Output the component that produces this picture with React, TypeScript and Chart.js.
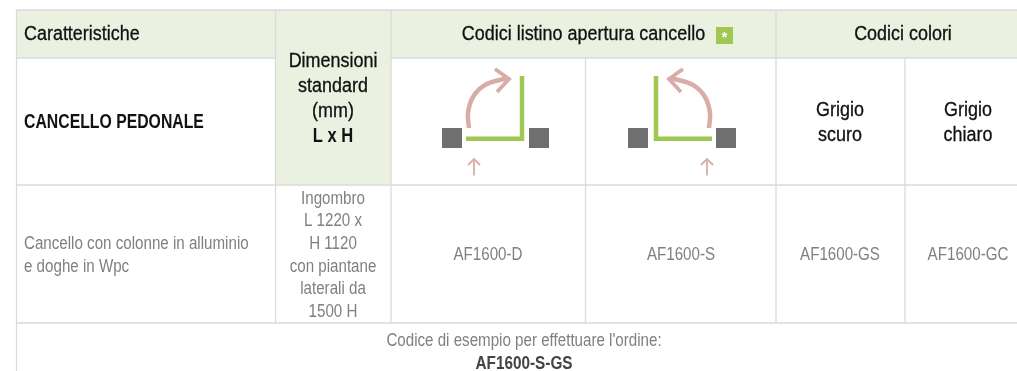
import React, { useEffect, useRef } from "react";
import { Chart, registerables } from "chart.js";

Chart.register(...registerables);

// ---- table text ----
const headerLabel = "Caratteristiche";
const dimensionHeader = ["Dimensioni", "standard", "(mm)", "L x H"];
const openingHeader = "Codici listino apertura cancello";
const starMark = "*";
const colorsHeader = "Codici colori";
const productName = "CANCELLO PEDONALE";
const colorNames = [["Grigio", "scuro"], ["Grigio", "chiaro"]];
const description = ["Cancello con colonne in alluminio", "e doghe in Wpc"];
const dimensionValues = ["Ingombro", "L 1220 x", "H 1120", "con piantane", "laterali da", "1500 H"];
const productCodes = ["AF1600-D", "AF1600-S", "AF1600-GS", "AF1600-GC"];
const exampleLabel = "Codice di esempio per effettuare l'ordine:";
const exampleCode = "AF1600-S-GS";

// ---- table structure, in scale units ----
const columnCenters = [333, 488, 681, 840, 968];
const gridSegments = [
  [16, 10, 1017, 10], [16, 58, 275, 58], [391, 58, 1017, 58], [16, 185, 1017, 185], [16, 323, 1017, 323],
  [16.5, 10, 16.5, 371], [275.5, 10, 275.5, 323], [391, 10, 391, 323], [585.5, 58, 585.5, 323],
  [776, 10, 776, 323], [905, 58, 905, 323],
];
const shadedCells = [[17, 10, 1017, 58], [276, 10, 391, 185]];
const doorLeft = [[466, 138.7], [522, 138.7], [522, 76]];
const doorRight = [[656, 76], [656, 138.7], [712, 138.7]];
const swingLeft = [[469, 128], [468, 113], [473, 97], [485, 85], [507, 78]];
const swingRight = [[709, 128], [710, 113], [705, 97], [693, 85], [671, 78]];
const swingHeadLeft = [[495, 69], [509, 79], [497, 92]];
const swingHeadRight = [[683, 69], [669, 79], [681, 92]];
const entryLeft = [[474, 175.5], [474, 159]];
const entryLeftHead = [[468, 165], [474, 159], [480, 165]];
const entryRight = [[707, 175.5], [707, 159]];
const entryRightHead = [[701, 165], [707, 159], [713, 165]];
const posts = [[452, 138], [539, 138], [638, 138], [726, 138]];

const toPoints = (p: number[][]) => p.map(([x, y]) => ({ x, y }));
const line = (p: number[][], color: string, width: number, tension = 0, extra: any = {}) => ({
  type: "line" as const,
  data: toPoints(p),
  borderColor: color,
  borderWidth: width,
  pointRadius: 0,
  tension,
  fill: false,
  ...extra,
});

const GRID = "#dadada";
const GREEN = "#a0c752";
const PINK = "#d9aca8";
const DARK = "#111111";
const GREY = "#808080";
const FAMILY = '"Liberation Sans", sans-serif';

const tablePlugin = {
  id: "tableCells",
  beforeDatasetsDraw(chart: any) {
    const { ctx, scales } = chart;
    const X = (v: number) => scales.x.getPixelForValue(v);
    const Y = (v: number) => scales.y.getPixelForValue(v);
    ctx.save();
    ctx.fillStyle = "#ebf1e0";
    shadedCells.forEach(([a, b, c, d]) => ctx.fillRect(X(a), Y(b), X(c) - X(a), Y(d) - Y(b)));
    ctx.restore();
  },
  afterDatasetsDraw(chart: any) {
    const { ctx, scales } = chart;
    const X = (v: number) => scales.x.getPixelForValue(v);
    const Y = (v: number) => scales.y.getPixelForValue(v);
    const text = (
      s: string, x: number, y: number, font: string, color: string, squeeze: number,
      align: CanvasTextAlign = "center", stroke = 0
    ) => {
      ctx.save();
      ctx.font = `${font} ${FAMILY}`;
      ctx.fillStyle = color;
      ctx.textAlign = align;
      ctx.textBaseline = "middle";
      ctx.translate(X(x), Y(y));
      ctx.scale(squeeze, 1);
      ctx.fillText(s, 0, 0);
      if (stroke) {
        ctx.strokeStyle = color;
        ctx.lineWidth = stroke;
        ctx.strokeText(s, 0, 0);
      }
      ctx.restore();
    };
    const head = "19.5px";
    const body = "17.5px";
    const headS = 0.92;
    const boldS = 0.85;
    const bodyS = 0.865;
    const weight = 0.3;
    text(headerLabel, 24, 35, head, DARK, headS, "left", weight);
    dimensionHeader.forEach((s, i) =>
      i === 3
        ? text(s, columnCenters[0], 62 + i * 25, `bold ${head}`, DARK, boldS)
        : text(s, columnCenters[0], 62 + i * 25, head, DARK, headS, "center", weight)
    );
    text(openingHeader, 583.5, 35, head, DARK, headS, "center", weight);
    ctx.fillStyle = GREEN;
    ctx.fillRect(X(716), Y(27), X(733) - X(716), Y(44) - Y(27));
    text(starMark, 724.5, 37.5, "bold 15px", "#ffffff", 1);
    text(colorsHeader, 903, 35, head, DARK, headS, "center", weight);
    text(productName, 24, 123, `bold ${head}`, DARK, 0.81, "left");
    colorNames.forEach((pair, c) =>
      pair.forEach((s, i) => text(s, columnCenters[3 + c], 111 + i * 25, head, DARK, headS, "center", weight))
    );
    description.forEach((s, i) => text(s, 24, 244 + i * 23, body, GREY, bodyS, "left"));
    dimensionValues.forEach((s, i) => text(s, columnCenters[0], 199 + i * 22.6, body, GREY, bodyS));
    productCodes.forEach((s, i) => text(s, columnCenters[i + 1], 255, body, GREY, bodyS));
    text(exampleLabel, 524, 341, body, GREY, bodyS);
    text(exampleCode, 524, 364, `bold ${body}`, "#444444", 0.875);
  },
};

export default function App() {
  const ref = useRef<HTMLCanvasElement>(null);
  useEffect(() => {
    if (!ref.current) return;
    const chart = new Chart(ref.current, {
      type: "scatter",
      data: {
        datasets: [
          ...gridSegments.map(([a, b, c, d]) => line([[a, b], [c, d]], GRID, 1.3)),
          line(doorLeft, GREEN, 4.5, 0, { borderJoinStyle: "miter" }),
          line(doorRight, GREEN, 4.5, 0, { borderJoinStyle: "miter" }),
          line(swingLeft, PINK, 4.5, 0.4),
          line(swingRight, PINK, 4.5, 0.4),
          line(swingHeadLeft, PINK, 3.8),
          line(swingHeadRight, PINK, 3.8),
          line(entryLeft, PINK, 1.8),
          line(entryLeftHead, PINK, 1.8),
          line(entryRight, PINK, 1.8),
          line(entryRightHead, PINK, 1.8),
          {
            type: "scatter" as const,
            data: toPoints(posts),
            pointStyle: "rect",
            pointRadius: 14.14,
            backgroundColor: "#6f6f6f",
            borderWidth: 0,
          },
        ] as any,
      },
      options: {
        animation: false,
        responsive: false,
        layout: { padding: 0, autoPadding: false },
        plugins: { legend: { display: false }, tooltip: { enabled: false } },
        events: [],
        scales: {
          x: { type: "linear", min: 0, max: 1017, display: false },
          y: { type: "linear", min: 0, max: 371, reverse: true, display: false },
        },
      },
      plugins: [tablePlugin],
    });
    return () => chart.destroy();
  }, []);
  return (
    <canvas
      ref={ref}
      width={1017}
      height={371}
      style={{ position: "absolute", left: 0, top: 0, display: "block" }}
    />
  );
}
